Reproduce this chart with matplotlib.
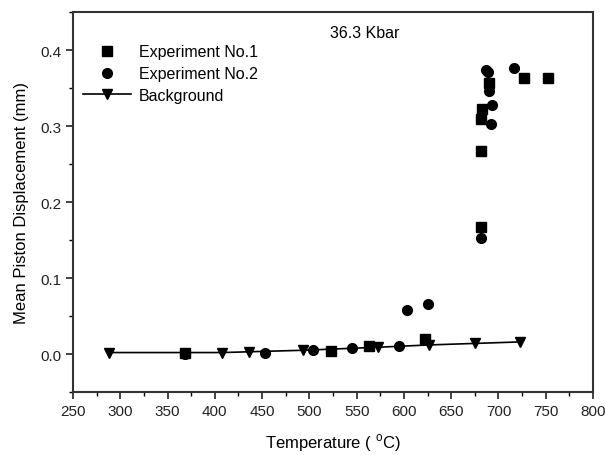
import matplotlib.pyplot as plt
from matplotlib.ticker import MultipleLocator

plt.rcParams['font.family'] = ['Liberation Sans', 'DejaVu Sans']
plt.rcParams['mathtext.fontset'] = 'custom'
plt.rcParams['mathtext.rm'] = 'Liberation Sans'

# ------------------ DATA ------------------

exp1_temp = [368, 523, 563, 622, 681.5, 681.5, 682, 683, 689.5, 727, 752.5]
exp1_disp = [0.001, 0.004, 0.010, 0.020, 0.167, 0.267, 0.309, 0.323, 0.356, 0.363, 0.363]

exp2_temp = [368.5, 453, 504, 545.5, 595, 603, 625, 682, 686.5, 689, 689.5, 692, 693, 716]
exp2_disp = [0.000, 0.002, 0.005, 0.008, 0.0105, 0.058, 0.066, 0.153, 0.374, 0.371,
             0.346, 0.303, 0.327, 0.376]

bg_temp = [288, 408, 436, 493.5, 573, 626.5, 675, 723]
bg_disp = [0.002, 0.002, 0.003, 0.005, 0.009, 0.012, 0.014, 0.016]

pressure_label = "36.3 Kbar"

# ------------------ PLOT ------------------

fig = plt.figure(figsize=(6.05, 4.56), dpi=100)
ax = fig.add_axes([0.1207, 0.138, 0.8595, 0.8335])

ax.plot(exp1_temp, exp1_disp, linestyle='none', marker='s', ms=6.5,
        color='black', label='Experiment No.1')
ax.plot(exp2_temp, exp2_disp, linestyle='none', marker='o', ms=7,
        color='black', label='Experiment No.2')
ax.plot(bg_temp, bg_disp, linestyle='-', lw=1.2, marker='v', ms=7,
        color='black', label='Background')

ax.set_xlim(250, 800)
ax.set_ylim(-0.05, 0.45)
ax.xaxis.set_major_locator(MultipleLocator(50))
ax.xaxis.set_minor_locator(MultipleLocator(25))
ax.yaxis.set_major_locator(MultipleLocator(0.1))
ax.yaxis.set_minor_locator(MultipleLocator(0.05))
ax.set_yticks([0.0, 0.1, 0.2, 0.3, 0.4])
ax.set_yticklabels(['0.0', '0.1', '0.2', '0.3', '0.4'])

ax.tick_params(which='major', direction='out', length=5, width=1.2,
               labelsize=11, colors='#222222', top=False, right=False)
ax.tick_params(which='minor', direction='out', length=3, width=1.0,
               top=False, right=False)
for s in ax.spines.values():
    s.set_linewidth(1.5)
    s.set_color('#333333')

ax.set_xlabel(r'Temperature ( $^{\mathrm{o}}$C)', fontsize=12, labelpad=10)
ax.set_ylabel('Mean Piston Displacement (mm)', fontsize=12, labelpad=8)

ax.text(0.56, 0.945, pressure_label, transform=ax.transAxes,
        fontsize=11.5, ha='center', va='center')

ax.legend(loc='upper left', frameon=False, fontsize=11.5,
          bbox_to_anchor=(0.0, 0.94), handlelength=3.0,
          handletextpad=0.5, labelspacing=0.42, borderaxespad=0.2)

fig.savefig('out.png', dpi=100)
